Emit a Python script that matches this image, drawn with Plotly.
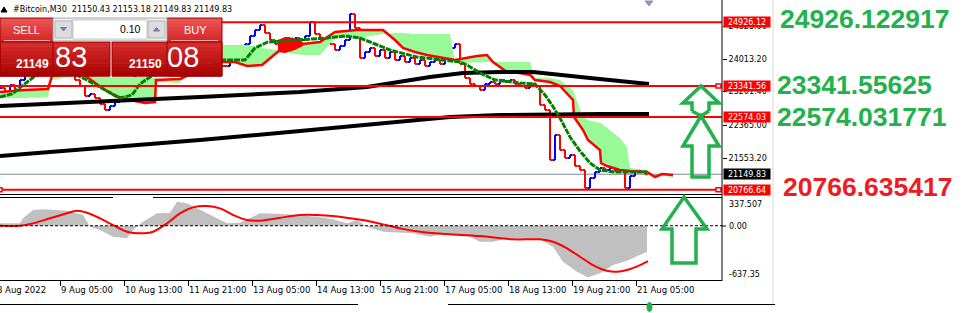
import plotly.graph_objects as go

W, H = 975, 313

# ---------------- price data (#Bitcoin M30, sampled every 5 bars) ----------------
bar_x = list(range(0, 650, 5))
close = [23293, 23193, 23367, 23243, 23491, 23690, 23790, 23864, 23939, 23988,
         23939, 24038, 23988, 23864, 23690, 23491, 23342, 23094, 23144, 23044,
         22895, 22746, 22845, 22945, 23069, 22994, 23491, 23690, 23790, 23864,
         23939, 23889, 23988, 24038, 23939, 23988, 24063, 23988, 23914, 23988,
         24038, 23939, 23988, 23889, 23839, 23839, 24038, 24113, 24237, 24386,
         24585, 24734, 24858, 24659, 24485, 24386, 24485, 24535, 24436, 24535,
         24485, 24585, 24933, 24634, 24485, 24535, 24386, 24237, 24336, 24485,
         25131, 24783, 24038, 24187, 24287, 24088, 24237, 24038, 24187, 23988,
         24088, 23939, 24038, 23889, 23988, 23839, 23939, 23988, 23889, 24038,
         24287, 24386, 23889, 23541, 23392, 23342, 23243, 23392, 23442, 23392,
         23491, 23442, 23491, 23392, 23342, 23293, 23392, 23342, 22870, 22746,
         21503, 22125, 21752, 21553, 21628, 21354, 21255, 20808, 21056, 21205,
         21305, 21255, 21305, 21230, 21305, 20808, 21106, 21255, 21205, 21150]

# Ichimoku-like cloud (span A = red line, span B = other cloud edge)
span_x = [0, 25, 48, 52, 80, 105, 115, 130, 145, 155, 156, 180, 200, 222, 235,
          247, 262, 277, 280, 303, 320, 335, 357, 383, 395, 403, 415, 427, 445, 450,
          455, 477, 487, 493, 507, 520, 530, 535, 550, 560, 567, 573, 574, 583, 588,
          600, 601, 607, 620, 627, 630, 647, 655, 662, 673]
span_a = [23193, 23243, 23268, 23591, 23690, 23243, 23094, 22994, 22920, 22945,
          23491, 23516, 23740, 23939, 23939, 23839, 23864, 24187, 24237, 24386,
          24436, 24684, 24734, 24734, 24485, 24287, 24187, 24113, 24038, 24013,
          23988, 24088, 24113, 23939, 23690, 23665, 23616, 23491, 23442, 23342,
          23168, 22994, 22572, 22249, 22000, 21752, 21429, 21354, 21255, 21230,
          21230, 21205, 21081, 21156, 21131]
span_b = [23044, 23044, 23069, 23491, 23616, 23566, 23566, 23566, 23566, 23541,
          23442, 23417, 23988, 24361, 24361, 24361, 24287, 24237, 24187, 24113,
          24113, 24535, 24535, 24634, 24659, 24659, 24634, 24634, 24634, 24634,
          23914, 23939, 23939, 23939, 23939, 23939, 23939, 23541, 23541, 23491,
          23342, 23243, 23168, 22572, 22498, 22423, 22423, 22299, 22050, 21827,
          21305, 21255, 21131, 21131, 21056]
bear_x = [278, 285, 295, 303]
bear_top = [24485, 24560, 24535, 24436]
bear_bot = [24187, 24162, 24237, 24336]

# moving averages
ma_fast_x = [0, 100, 200, 300, 367, 430, 463, 500, 533, 590, 649]
ma_fast = [22845, 22945, 23069, 23193, 23317, 23566, 23665, 23690, 23690, 23541, 23392]
ma_slow_x = [0, 100, 200, 300, 400, 450, 500, 550, 600, 649]
ma_slow = [21603, 21802, 22000, 22224, 22448, 22572, 22622, 22646, 22646, 22646]
green_x = [0, 12, 22, 35, 50, 70, 85, 100, 120, 132, 140, 150, 165, 200, 223,
           245, 255, 268, 300, 327, 345, 360, 375, 390, 417, 443, 460, 467, 480, 495,
           520, 535, 545, 552, 560, 570, 580, 590, 600, 615, 647]
green_v = [23069, 23144, 23342, 23591, 23740, 23690, 23516, 23317, 23044, 23119,
           23392, 23566, 23740, 23939, 23988, 23988, 24287, 24436, 24485, 24535,
           24585, 24535, 24386, 24237, 24063, 23988, 23939, 23864, 23665, 23491,
           23417, 23392, 23119, 22870, 22547, 22075, 21727, 21429, 21255, 21205, 21205]

# oscillator (MACD histogram + signal)
macd_x = [0, 20, 23, 33, 43, 67, 83, 90, 100, 113, 127, 133, 143, 157, 170, 177,
          187, 200, 213, 227, 240, 260, 283, 317, 333, 347, 357, 367, 383, 400, 413,
          430, 447, 470, 480, 493, 507, 540, 553, 563, 577, 588, 600, 613, 627, 647]
macd_v = [28, 28, 87, 184, 193, 176, 126, -12, -50, -129, -148, -50, 47, 146, 153,
          282, 263, 184, 106, 28, 35, 146, 137, 106, 75, 28, 67, -12, -70, -82, -89,
          -129, -89, -129, -188, -188, -148, -160, -247, -423, -540, -606, -559, -462,
          -411, -305]
sig_x = [0, 20, 33, 50, 67, 77, 87, 100, 113, 127, 140, 153, 167, 180, 193, 207,
         220, 233, 247, 260, 277, 300, 317, 333, 350, 367, 383, 400, 420, 447, 480,
         513, 540, 553, 567, 580, 593, 607, 617, 627, 640, 648]
sig_v = [0, 0, 28, 87, 146, 176, 153, 87, 8, -70, -89, -70, 28, 146, 216, 231, 204,
         126, 67, 59, 87, 126, 126, 114, 87, 59, 16, -31, -70, -97, -121, -160, -160,
         -188, -265, -364, -462, -529, -540, -520, -462, -415]

level_prices = [24926.12, 23341.56, 22574.03, 20766.64]
level_labels = ["24926.12", "23341.56", "22574.03", "20766.64"]
current_price = 21149.83
price_ticks = [24825.00, 24013.20, 23201.40, 22365.00, 21553.20]
price_tick_text = ["24825.00", "24013.20", "23201.40", "22365.00", "21553.20"]
osc_range = [-637.35, 337.507]
osc_labels = ["337.507", "0.00", "-637.35"]
time_ticks = [-4, 60, 124, 188, 252, 316, 380, 444, 508, 572, 636]
time_labels = ["8 Aug 2022", "9 Aug 05:00", "10 Aug 13:00", "11 Aug 21:00",
               "13 Aug 05:00", "14 Aug 13:00", "15 Aug 21:00", "17 Aug 05:00",
               "18 Aug 13:00", "19 Aug 21:00", "21 Aug 05:00"]
big_texts = ["24926.122917", "23341.55625", "22574.031771", "20766.635417"]
big_colors = ["#22B14C", "#22B14C", "#22B14C", "#ED1C24"]
title_text = "#Bitcoin,M30  21150.43 21153.18 21149.83 21149.83"

opens = [close[0]] + close[:-1]
highs = [max(o, c) for o, c in zip(opens, close)]
lows = [min(o, c) for o, c in zip(opens, close)]

# ---------------- helpers (pixel -> paper) ----------------
def P(x):
    return x / W

def Q(y):
    return 1 - y / H

XR = 722  # chart right edge (px)

fig = go.Figure()
common = dict(hoverinfo="skip", showlegend=False)
fig.add_trace(go.Scatter(x=span_x, y=span_b, mode="lines", line=dict(width=0, color="#98FB98"), **common))
fig.add_trace(go.Scatter(x=span_x, y=span_a, mode="lines", line=dict(width=0, color="#98FB98"),
                         fill="tonexty", fillcolor="#98FB98", **common))
fig.add_trace(go.Scatter(x=bear_x, y=bear_bot, mode="lines", line=dict(width=0, color="#FF0000"), **common))
fig.add_trace(go.Scatter(x=bear_x, y=bear_top, mode="lines", line=dict(width=0, color="#FF0000"),
                         fill="tonexty", fillcolor="#FF0000", **common))
fig.add_trace(go.Scatter(x=span_x, y=span_a, mode="lines", line=dict(width=2.5, color="#FF0000"), **common))
fig.add_trace(go.Scatter(x=ma_slow_x, y=ma_slow, mode="lines", line=dict(width=4, color="black"), **common))
fig.add_trace(go.Scatter(x=ma_fast_x, y=ma_fast, mode="lines", line=dict(width=4, color="black"), **common))
fig.add_trace(go.Scatter(x=green_x, y=green_v, mode="lines", line=dict(width=3, color="#008000", dash="6px,1px"), **common))
fig.add_trace(go.Ohlc(x=bar_x, open=opens, high=highs, low=lows, close=close, tickwidth=0.5,
                      increasing=dict(line=dict(color="#0000FF", width=2)),
                      decreasing=dict(line=dict(color="#FF0000", width=2)),
                      hoverinfo="skip", showlegend=False))
fig.add_trace(go.Scatter(x=macd_x, y=macd_v, mode="lines", line=dict(width=0, color="#C0C0C0"),
                         fill="tozeroy", fillcolor="#C0C0C0", xaxis="x2", yaxis="y2", **common))
fig.add_trace(go.Scatter(x=sig_x, y=sig_v, mode="lines", line=dict(width=2, color="#FF0000", shape="spline"),
                         xaxis="x2", yaxis="y2", **common))

shapes = []
ann = []

def line_px(x0, y0, x1, y1, color="black", width=1, dash=None):
    d = dict(type="line", xref="paper", yref="paper", x0=P(x0), y0=Q(y0), x1=P(x1), y1=Q(y1),
             line=dict(color=color, width=width), layer="above")
    if dash:
        d["line"]["dash"] = dash
    shapes.append(d)

def rect_px(x0, y0, x1, y1, fill, line=None, lw=0):
    shapes.append(dict(type="rect", xref="paper", yref="paper", x0=P(x0), x1=P(x1), y0=Q(y1), y1=Q(y0),
                       fillcolor=fill, line=dict(color=line or fill, width=lw), layer="above"))

def path_px(pts, color, width, fill="rgba(0,0,0,0)", closed=True):
    s = "M " + " L ".join(f"{P(x):.5f},{Q(y):.5f}" for x, y in pts) + (" Z" if closed else "")
    shapes.append(dict(type="path", xref="paper", yref="paper", path=s, fillcolor=fill,
                       line=dict(color=color, width=width), layer="above"))

def text_px(t, x, y, size, color="black", xanchor="left", family="DejaVu Sans", **kw):
    ann.append(dict(text=t, x=P(x), y=Q(y), xref="paper", yref="paper", xanchor=xanchor,
                    yanchor="middle", showarrow=False, font=dict(size=size, color=color, family=family), **kw))

# current price line (behind bars)
shapes.append(dict(type="line", xref="x", yref="y", x0=0, x1=XR, y0=current_price, y1=current_price,
                   line=dict(color="#778899", width=1), layer="below"))
# level lines
for lv in level_prices:
    shapes.append(dict(type="line", xref="x", yref="y", x0=0, x1=XR, y0=lv, y1=lv,
                       line=dict(color="#FF0000", width=2), layer="above"))
for lv in [level_prices[1], level_prices[3]]:
    shapes.append(dict(type="rect", xref="x", yref="y", x0=716, x1=721, y0=lv - 50, y1=lv + 50,
                       fillcolor="white", line=dict(color="#FF0000", width=1.5), layer="above"))
shapes.append(dict(type="rect", xref="x", yref="y", x0=-2, x1=2, y0=level_prices[3] - 50, y1=level_prices[3] + 50,
                   fillcolor="white", line=dict(color="#FF0000", width=1.5), layer="above"))

# frame lines
line_px(XR, 0, XR, 281)
line_px(0, 194.5, XR, 194.5)
line_px(0, 197.5, 113, 197.5)
line_px(153, 197.5, XR, 197.5)
line_px(0, 304.5, 358, 304.5)
line_px(448, 304.5, 775, 304.5)
line_px(773, 0, 773, 304, color="#D8D8D8")
shapes.append(dict(type="line", xref="x2", yref="y2", x0=0, x1=XR, y0=0, y1=0,
                   line=dict(color="black", width=1, dash="3px,2px"), layer="above"))

# shift marker + title triangle
path_px([(645, 1), (653, 1), (649, 6)], "#8C9BB0", 1, fill="#8C9BB0")
path_px([(1, 12), (7, 12), (4, 7)], "black", 1, fill="black")

# ---- one-click trading panel ----
def gradient(x0, y0, x1, y1, c_top, c_bot, n=8):
    for i in range(n):
        t = i / (n - 1)
        col = "rgb(%d,%d,%d)" % tuple(round(a + (b - a) * t) for a, b in zip(c_top, c_bot))
        ya = y0 + (y1 - y0) * i / n
        yb = y0 + (y1 - y0) * (i + 1) / n
        rect_px(x0, ya, x1, yb + 0.5, col)

gradient(0, 18, 53, 42, (236, 84, 84), (214, 40, 40))
gradient(167, 18, 222, 42, (236, 84, 84), (214, 40, 40))
gradient(0, 42, 110, 76, (214, 42, 42), (170, 4, 4))
gradient(112, 42, 222, 76, (214, 42, 42), (170, 4, 4))
rect_px(0, 18, 53, 76, "rgba(0,0,0,0)", line="#9E0000", lw=1)
rect_px(167, 18, 222, 76, "rgba(0,0,0,0)", line="#9E0000", lw=1)
rect_px(112, 42, 222, 76, "rgba(0,0,0,0)", line="#9E0000", lw=1)
rect_px(0, 42, 110, 76, "rgba(0,0,0,0)", line="#9E0000", lw=1)
line_px(4, 40.5, 50, 40.5, color="#F4A0A0")
line_px(171, 40.5, 218, 40.5, color="#F4A0A0")
rect_px(53, 18, 167, 41, "#EEEEEE", line="#A8A8A8", lw=1)
rect_px(73, 20, 147, 39, "white", line="#C8C8C8", lw=1)
rect_px(55, 21, 72, 38, "#DCDCDC", line="#B4B4B4", lw=1)
rect_px(148, 21, 165, 38, "#DCDCDC", line="#B4B4B4", lw=1)
path_px([(60.5, 27.5), (66.5, 27.5), (63.5, 31)], "#6B80AA", 1, fill="#6B80AA")
path_px([(153.5, 31), (159.5, 31), (156.5, 27.5)], "#6B80AA", 1, fill="#6B80AA")

text_px("SELL", 26, 30, 11, color="white", xanchor="center", family="Liberation Sans")
text_px("BUY", 195, 30, 11, color="white", xanchor="center", family="Liberation Sans")
text_px("0.10", 143, 29, 10.5, xanchor="right", family="Liberation Sans")
text_px("<b>21149</b>", 51, 64, 12, color="white", xanchor="right", family="Liberation Sans")
text_px("83", 53, 57, 29, color="white", family="Liberation Sans")
text_px("<b>21150</b>", 164, 64, 12, color="white", xanchor="right", family="Liberation Sans")
text_px("08", 165, 57, 29, color="white", family="Liberation Sans")

# title
text_px(title_text, 11, 9, 8)

# right price labels
for lv, lab in zip(level_prices, level_labels):
    ann.append(dict(text=lab, x=P(723), y=lv, xref="paper", yref="y", xanchor="left", yanchor="middle",
                    showarrow=False, width=46, height=10, bgcolor="#FF0000", borderpad=0,
                    font=dict(size=8, color="white", family="DejaVu Sans")))
ann.append(dict(text="%.2f" % current_price, x=P(723), y=current_price, xref="paper", yref="y",
                xanchor="left", yanchor="middle", showarrow=False, width=46, height=10, bgcolor="black",
                borderpad=0, font=dict(size=8, color="white", family="DejaVu Sans")))

# oscillator labels
for lab, yy in zip(osc_labels, [204, 226, 274]):
    text_px(lab, 727, yy, 8)
line_px(XR, 226, XR + 4, 226)

# time labels
for tx, lab in zip(time_ticks, time_labels):
    text_px(lab, tx - 1, 290, 8.5)

# big right-hand values
for t, c, yy, xx in zip(big_texts, big_colors, [19.5, 85, 117, 187], [778, 775, 775, 781]):
    text_px("<b>%s</b>" % t, xx, yy, 26.5, color=c, family="Liberation Sans")

# arrows
G = "#22B14C"
path_px([(692, 111), (692, 103), (683, 103), (701, 86), (719, 103), (709, 103), (709, 111)], G, 3.5, closed=False)
path_px([(692, 111), (701, 116), (709, 111)], G, 3.5, closed=False)
path_px([(701, 116), (719, 146), (709, 146), (709, 177), (692, 177), (692, 146), (683, 146)], G, 3.5)
path_px([(684, 197), (707, 229), (696, 229), (696, 263), (672, 263), (672, 229), (662, 229)], G, 3.5)
shapes.append(dict(type="circle", xref="paper", yref="paper", x0=P(646.5), x1=P(652.5), y0=Q(312), y1=Q(302),
                   fillcolor=G, line=dict(color=G, width=0), layer="above"))

fig.update_layout(
    width=W, height=H, margin=dict(l=0, r=0, t=0, b=0),
    paper_bgcolor="white", plot_bgcolor="white", showlegend=False,
    xaxis=dict(domain=[0, XR / W], range=[0, XR], visible=False, anchor="y",
               rangeslider=dict(visible=False), fixedrange=True),
    xaxis2=dict(domain=[0, XR / W], range=[0, XR], anchor="y2", showgrid=False, zeroline=False,
                showticklabels=False, ticks="outside", ticklen=5, tickcolor="black",
                tickvals=time_ticks, showline=True, linecolor="black", linewidth=1),
    yaxis=dict(domain=[1 - 194 / H, 1], range=[20658.7, 25479.2], side="right", anchor="x",
               showgrid=False, zeroline=False, ticks="outside", ticklen=4, tickcolor="black",
               tickvals=price_ticks, ticktext=price_tick_text, showline=False,
               tickfont=dict(family="DejaVu Sans", size=8, color="black")),
    yaxis2=dict(domain=[1 - 280 / H, 1 - 197 / H], range=osc_range, side="right", anchor="x2",
                showgrid=False, zeroline=False, showticklabels=False, ticks=""),
    shapes=shapes, annotations=ann,
)

fig.write_html("out.html")
